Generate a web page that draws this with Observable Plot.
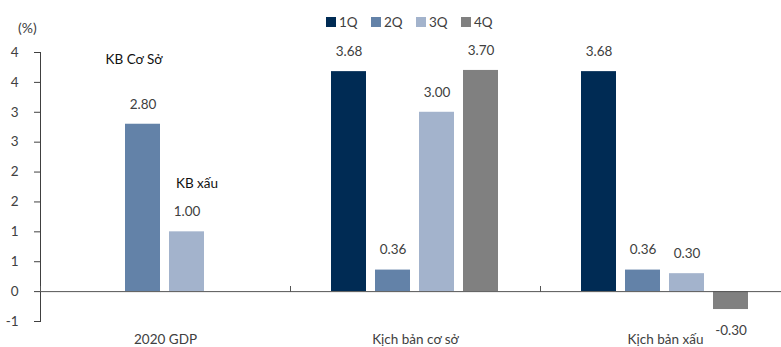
<!DOCTYPE html>
<html>
<head>
<meta charset="utf-8">
<script src="https://cdn.jsdelivr.net/npm/d3@7"></script>
<script src="https://cdn.jsdelivr.net/npm/@observablehq/plot@0.6"></script>
<style>
  html, body { margin: 0; padding: 0; background: #fff; }
  body { width: 781px; height: 347px; overflow: hidden; position: relative; font-family: Lato, sans-serif; }
  #chart { position: absolute; left: 0; top: 0; }
  #chart svg text { font-size: 13.5px; }
  #legend { position: absolute; left: 326px; top: 14px; display: flex; font-size: 13.5px; color: #404040; }
  #legend .item { display: flex; align-items: center; width: 45px; }
  #legend .sw { width: 10px; height: 10px; margin-right: 3px; }
  #unit { position: absolute; left: 18px; top: 19px; font-size: 14px; color: #404040; }
</style>
</head>
<body>
<div id="chart"></div>
<div id="legend"></div>
<div id="unit">(%)</div>
<script>
const groups = ["2020 GDP", "Kịch bản cơ sở", "Kịch bản xấu"];
const quarters = ["1Q", "2Q", "3Q", "4Q"];
const colors = ["#002b54", "#6382a8", "#a3b3cc", "#808080"];
const values1Q = [null, 3.68, 3.68];
const values2Q = [2.80, 0.36, 0.36];
const values3Q = [1.00, 3.00, 0.30];
const values4Q = [null, 3.70, -0.30];
const yTicks = [-0.5, 0, 0.5, 1, 1.5, 2, 2.5, 3, 3.5, 4];
const yTickLabels = ["-1", "0", "1", "1", "2", "2", "3", "3", "4", "4"];
const noteTexts = ["KB Cơ Sở", "KB xấu"];
const noteQuarters = ["2Q", "3Q"];
const noteY = [3.88, 1.80];

const series = [values1Q, values2Q, values3Q, values4Q];
const data = [];
series.forEach((vals, qi) => vals.forEach((v, gi) => {
  if (v !== null) data.push({group: groups[gi], quarter: quarters[qi], value: v});
}));
const notes = noteTexts.map((t, i) => ({group: groups[0], quarter: noteQuarters[i], y: noteY[i], text: t}));

const chart = Plot.plot({
  width: 781,
  height: 347,
  marginLeft: 40,
  marginRight: -9,
  marginTop: 52,
  marginBottom: 26,
  style: {fontFamily: "Lato, sans-serif", fontSize: "13.5px", color: "#404040", background: "transparent"},
  fx: {domain: groups, padding: 0, label: null, tickSize: 0, tickPadding: 13},
  x: {domain: quarters, paddingInner: 0.2, paddingOuter: 0.878, axis: null},
  y: {domain: [-0.5, 4], ticks: yTicks, tickFormat: d => yTickLabels[yTicks.indexOf(d)], tickSize: 6, tickPadding: 16, line: true, label: null},
  color: {domain: quarters, range: colors},
  marks: [
    Plot.barY(data, {fx: "group", x: "quarter", y: "value", fill: "quarter"}),
    Plot.ruleY([0], {stroke: "#555", strokeWidth: 1}),
    Plot.frame({anchor: "left", insetTop: 234, insetBottom: 30, stroke: "#555"}),
    Plot.text(data.filter(d => d.value >= 0), {fx: "group", x: "quarter", y: "value", text: d => d.value.toFixed(2), dy: -20, fill: "#404040"}),
    Plot.text(data.filter(d => d.value < 0), {fx: "group", x: "quarter", y: "value", text: d => d.value.toFixed(2), dy: 21, fill: "#404040"}),
    Plot.text(notes.slice(0, 1), {fx: "group", x: "quarter", y: "y", text: "text", dx: -9, fill: "#111"}),
    Plot.text(notes.slice(1), {fx: "group", x: "quarter", y: "y", text: "text", dx: 10, fill: "#111"})
  ]
});
document.getElementById("chart").append(chart);

const legend = document.getElementById("legend");
quarters.forEach((q, i) => {
  const item = document.createElement("div");
  item.className = "item";
  const sw = document.createElement("div");
  sw.className = "sw";
  sw.style.background = colors[i];
  const lab = document.createElement("span");
  lab.textContent = q;
  item.append(sw, lab);
  legend.append(item);
});
</script>
</body>
</html>
